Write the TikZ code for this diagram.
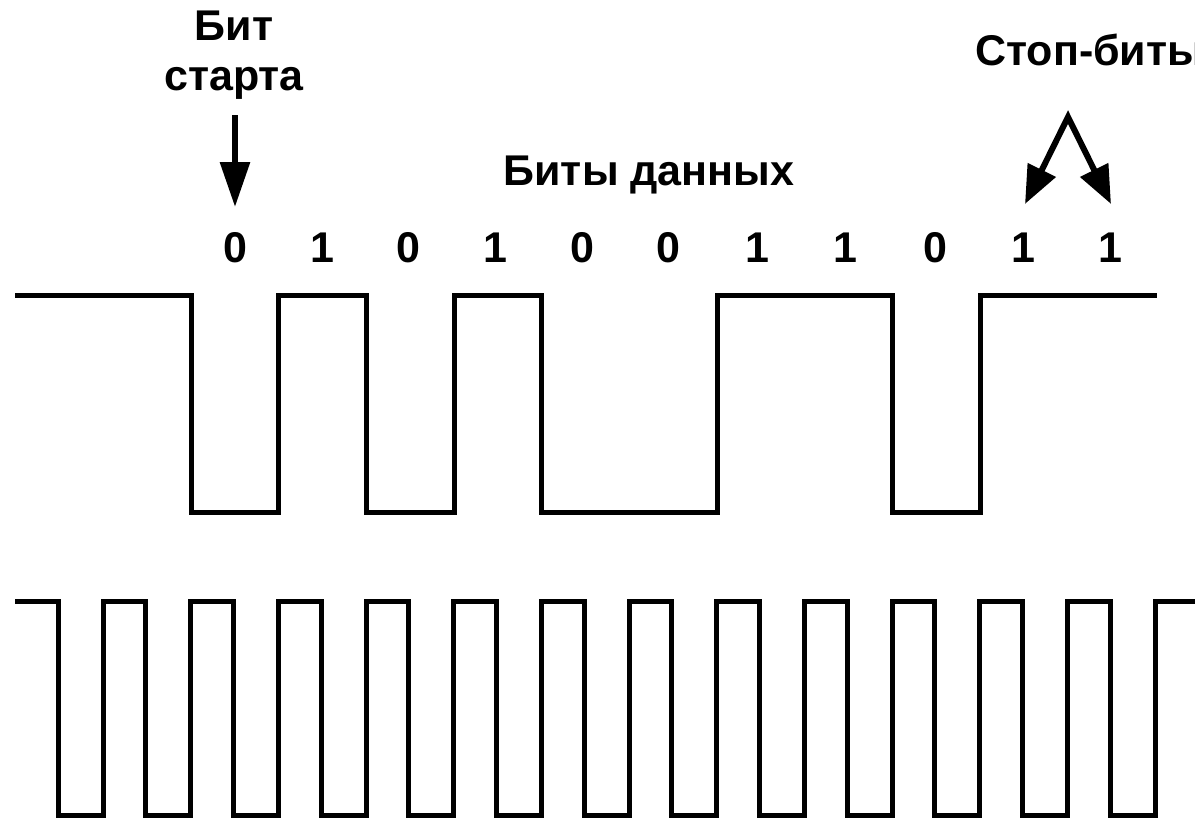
\documentclass[tikz,border=0pt]{standalone}
\usepackage{fontspec}
\setmainfont{Liberation Sans}
\usetikzlibrary{arrows.meta}
\begin{document}
\begin{tikzpicture}[x=1pt,y=-1pt,
  sig/.style={line width=5pt, line join=miter},
  lbl/.style={font=\bfseries\fontsize{43}{50}\selectfont, inner sep=0pt, anchor=base},
  arr/.style={line width=6pt, -{Triangle[length=45pt,width=29pt]}},
  darr/.style={line width=6pt, line join=miter, {Triangle[length=38pt,width=30pt]}-{Triangle[length=38pt,width=30pt]}}]
\useasboundingbox (0,0) rectangle (1195,825);
\clip (0,0) rectangle (1195,825);
% labels
\node[lbl] (bit) at (234,40) {Бит};
\node[lbl] (starta) at (234,90) {старта};
\node[lbl] (data) at (649,185) {Биты данных};
\node[lbl, anchor=base west] (stop) at (975,65) {Стоп-биты};
\foreach \x/\b [count=\i] in {235/0,322/1,408/0,495/1,582/0,668/0,757/1,845/1,935/0,1023/1,1110/1}
  \node[lbl] (d\i) at (\x,262) {\b};
% arrows
\coordinate (sa) at (235,115);
\coordinate (sb) at (235,207);
\draw[arr] (sa) -- (sb);
\coordinate (apex) at (1068,117);
\coordinate (t1) at (1025,204);
\coordinate (t2) at (1111,204);
\draw[darr] (t1) -- (apex) -- (t2);
% data signal
\draw[sig] (15,295) -- (191,295) -- (191,512) -- (278,512) -- (278,295)
  -- (366,295) -- (366,512) -- (454,512) -- (454,295) -- (541,295)
  -- (541,512) -- (717,512) -- (717,295) -- (892,295) -- (892,512)
  -- (980,512) -- (980,295) -- (1157,295);
% clock signal
\draw[sig] (15,601) \foreach \k in {0,...,12} {
  -- ({58+87.67*\k},601) -- ({58+87.67*\k},815) -- ({103+87.67*\k},815) -- ({103+87.67*\k},601) }
  -- (1200,601);
\end{tikzpicture}
\end{document}
